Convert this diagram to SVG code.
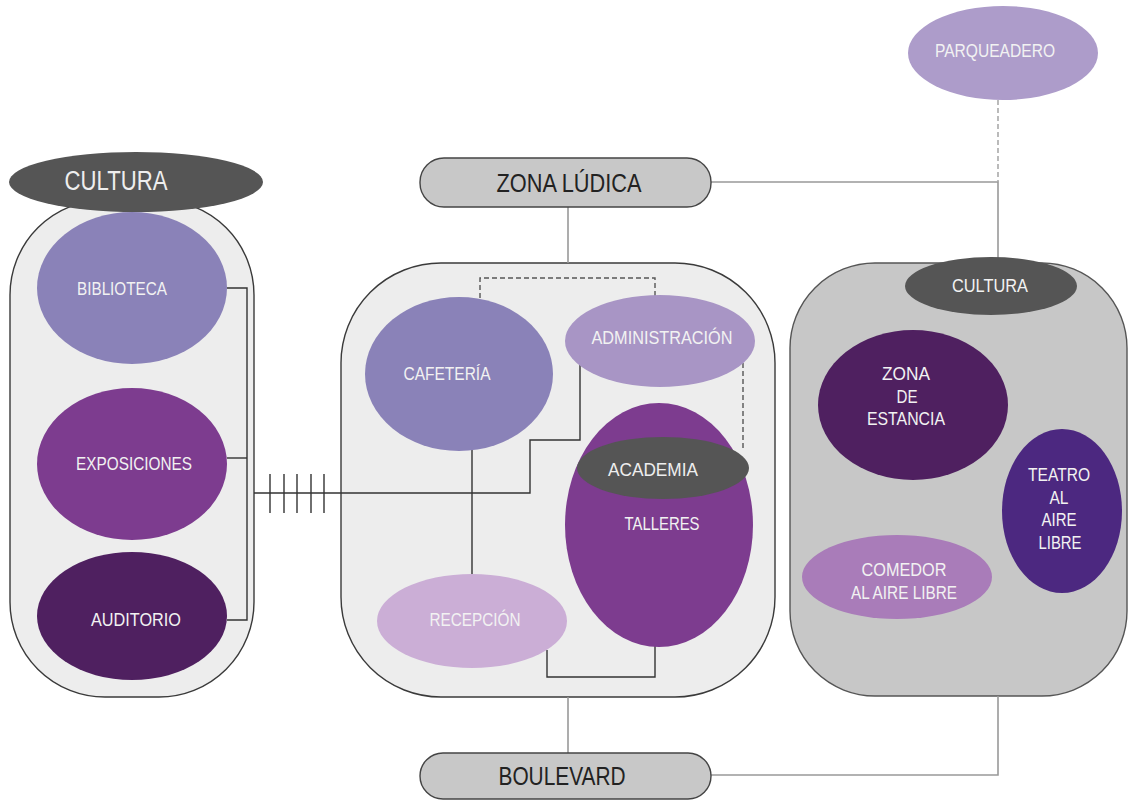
<svg xmlns="http://www.w3.org/2000/svg" width="1129" height="800" viewBox="0 0 1129 800">
<style>
.cont{fill:#ededed;stroke:#3a3a3a;stroke-width:1.4}
.contd{fill:#c7c7c7;stroke:#555;stroke-width:1.4}
.pill{fill:#c8c8c8;stroke:#444;stroke-width:1.4}
.ln{fill:none;stroke:#333;stroke-width:1.4}
.lg{fill:none;stroke:#999;stroke-width:1.6}
.dash{fill:none;stroke:#555;stroke-width:1.4;stroke-dasharray:5 3}
.dashg{fill:none;stroke:#aaa;stroke-width:1.6;stroke-dasharray:5 3}
text{font-family:"Liberation Sans",Arial,sans-serif;text-anchor:middle;dominant-baseline:central}
.w{fill:#f2f2f2;font-size:18px}
.big{fill:#eeeeee;font-size:27px}
.mid{fill:#eeeeee;font-size:19px}
.blk{fill:#222;font-size:25px}
</style>
<rect width="1129" height="800" fill="#ffffff"/>

<!-- containers -->
<g id="left-container">
<rect class="cont" x="10" y="200" width="244" height="497" rx="95" ry="95"/>
</g>
<g id="middle-container">
<rect class="cont" x="341" y="263" width="434" height="434" rx="100" ry="100"/>
</g>
<g id="right-container">
<rect class="contd" x="790" y="263" width="337" height="433" rx="85" ry="85"/>
</g>

<g id="connectors">
<!-- left bracket -->
<polyline class="ln" points="227,288 247,288 247,620 227,620"/>
<line class="ln" x1="227" y1="458" x2="247" y2="458"/>
<!-- link left to middle -->
<polyline class="ln" points="254,493 530,493 530,440 580,440 580,363"/>
<g class="ln">
<line x1="270" y1="474" x2="270" y2="513"/>
<line x1="284" y1="474" x2="284" y2="513"/>
<line x1="297" y1="474" x2="297" y2="513"/>
<line x1="311" y1="474" x2="311" y2="513"/>
<line x1="324" y1="474" x2="324" y2="513"/>
</g>
<!-- middle internals -->
<line class="ln" x1="472" y1="449" x2="472" y2="576"/>
<polyline class="ln" points="547,650 547,677 655,677 655,645"/>
<polyline class="dash" points="480,298 480,278 655,278 655,296"/>
<polyline class="dash" points="743,363 743,448"/>
<!-- outer gray links -->
<line class="lg" x1="568" y1="207" x2="568" y2="263"/>
<line class="lg" x1="568" y1="697" x2="568" y2="753"/>
<polyline class="lg" points="711,182 998,182 998,258"/>
<line class="dashg" x1="998" y1="100" x2="998" y2="182"/>
<polyline class="lg" points="998,696 998,775 711,775"/>
</g>

<!-- left nodes -->
<g id="cultura-left">
<ellipse cx="136" cy="182" rx="127" ry="30" fill="#555555"/>
<text class="big" x="116" y="181" textLength="103" lengthAdjust="spacingAndGlyphs">CULTURA</text>
</g>
<g id="biblioteca">
<ellipse cx="132" cy="288" rx="95" ry="76" fill="#8a82b8"/>
<text class="w" x="122" y="289" textLength="90" lengthAdjust="spacingAndGlyphs">BIBLIOTECA</text>
</g>
<g id="exposiciones">
<ellipse cx="132" cy="464" rx="95" ry="76" fill="#7d3c8f"/>
<text class="w" x="134" y="464" textLength="116" lengthAdjust="spacingAndGlyphs">EXPOSICIONES</text>
</g>
<g id="auditorio">
<ellipse cx="132" cy="616" rx="95" ry="64" fill="#4f2060"/>
<text class="w" x="136" y="620" textLength="90" lengthAdjust="spacingAndGlyphs">AUDITORIO</text>
</g>

<!-- top nodes -->
<g id="zona-ludica">
<rect class="pill" x="420" y="158" width="291" height="49" rx="24" ry="24"/>
<text class="blk" x="569" y="183" textLength="145" lengthAdjust="spacingAndGlyphs">ZONA LÚDICA</text>
</g>
<g id="parqueadero">
<ellipse cx="1003" cy="53" rx="95" ry="47" fill="#ad9cca"/>
<text class="w" x="995" y="51" textLength="120" lengthAdjust="spacingAndGlyphs">PARQUEADERO</text>
</g>
<g id="boulevard">
<rect class="pill" x="420" y="753" width="291" height="46" rx="23" ry="23"/>
<text class="blk" x="562" y="776" textLength="127" lengthAdjust="spacingAndGlyphs">BOULEVARD</text>
</g>

<!-- middle nodes -->
<g id="cafeteria">
<ellipse cx="459" cy="374" rx="94" ry="77" fill="#8a82b8"/>
<text class="w" x="447" y="374" textLength="87" lengthAdjust="spacingAndGlyphs">CAFETERÍA</text>
</g>
<g id="administracion">
<ellipse cx="660" cy="341" rx="95" ry="46" fill="#a895c5"/>
<text class="w" x="662" y="338" textLength="141" lengthAdjust="spacingAndGlyphs">ADMINISTRACIÓN</text>
</g>
<g id="talleres">
<ellipse cx="659" cy="525" rx="94" ry="122" fill="#7d3c8f"/>
<text class="w" x="662" y="524" textLength="75" lengthAdjust="spacingAndGlyphs">TALLERES</text>
</g>
<g id="academia">
<ellipse cx="663" cy="468" rx="86" ry="31" fill="#555555"/>
<text class="mid" x="653" y="469" textLength="90" lengthAdjust="spacingAndGlyphs">ACADEMIA</text>
</g>
<g id="recepcion">
<ellipse cx="472" cy="621" rx="95" ry="47" fill="#cbaed6"/>
<text class="w" x="475" y="620" textLength="91" lengthAdjust="spacingAndGlyphs">RECEPCIÓN</text>
</g>

<!-- right nodes -->
<g id="cultura-right">
<ellipse cx="991" cy="286" rx="86" ry="29" fill="#555555"/>
<text class="w" x="990" y="286" textLength="76" lengthAdjust="spacingAndGlyphs">CULTURA</text>
</g>
<g id="zona-estancia">
<ellipse cx="913" cy="405" rx="95" ry="75" fill="#4f2060"/>
<text class="w" x="906" y="374" textLength="48" lengthAdjust="spacingAndGlyphs">ZONA</text>
<text class="w" x="907" y="397" textLength="21" lengthAdjust="spacingAndGlyphs">DE</text>
<text class="w" x="906" y="419" textLength="78" lengthAdjust="spacingAndGlyphs">ESTANCIA</text>
</g>
<g id="teatro">
<ellipse cx="1062" cy="511" rx="60" ry="82" fill="#4c2880"/>
<text class="w" x="1059" y="475" textLength="62" lengthAdjust="spacingAndGlyphs">TEATRO</text>
<text class="w" x="1059" y="498" textLength="19" lengthAdjust="spacingAndGlyphs">AL</text>
<text class="w" x="1059" y="520" textLength="35" lengthAdjust="spacingAndGlyphs">AIRE</text>
<text class="w" x="1060" y="543" textLength="43" lengthAdjust="spacingAndGlyphs">LIBRE</text>
</g>
<g id="comedor">
<ellipse cx="897" cy="577" rx="95" ry="42" fill="#a97cb9"/>
<text class="w" x="904" y="570" textLength="85" lengthAdjust="spacingAndGlyphs">COMEDOR</text>
<text class="w" x="904" y="593" textLength="106" lengthAdjust="spacingAndGlyphs">AL AIRE LIBRE</text>
</g>
</svg>
